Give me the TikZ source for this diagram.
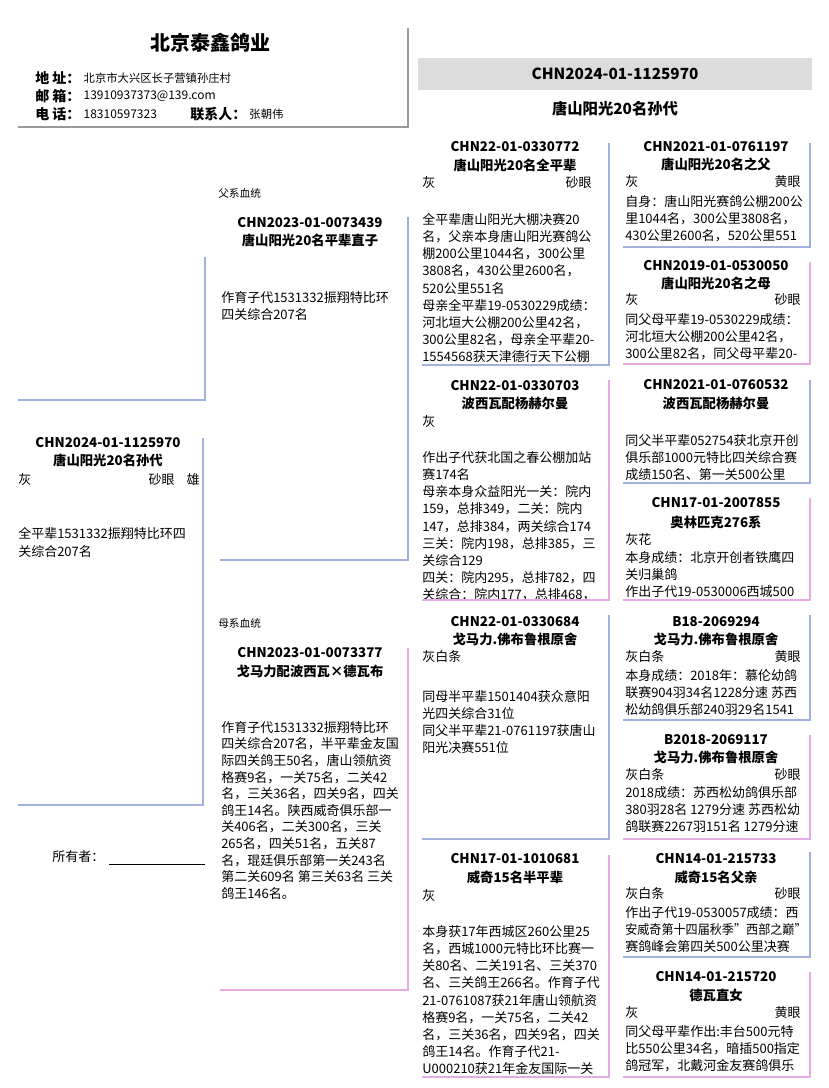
\documentclass[tikz,border=0pt]{standalone}
\usepackage{fontspec}
\setmainfont{Noto Sans CJK SC}
\usepackage{xcolor}
\usetikzlibrary{positioning}
\definecolor{sireBlue}{HTML}{A2B0DF}
\definecolor{damPink}{HTML}{E7ABE3}
\definecolor{headGray}{HTML}{DCDCDC}
\definecolor{frameGray}{HTML}{9A9A9A}

\begin{document}
\begin{tikzpicture}[x=0.75pt, y=-0.75pt,
  sireln/.style={draw=sireBlue, line width=2pt},
  damln/.style={draw=damPink, line width=2pt},
  idtxt/.style={font=\bfseries\fontsize{10}{12}\selectfont, inner sep=0pt},
  tagtxt/.style={font=\fontsize{9.75}{12}\selectfont, inner sep=0pt},
  bodytxt/.style={font=\fontsize{9.75}{12.9}\selectfont, align=left, inner sep=0pt, anchor=north west},
  lbl/.style={font=\bfseries\fontsize{10.5}{12}\selectfont, inner sep=0pt, anchor=west},
  val/.style={font=\fontsize{9}{11}\selectfont, inner sep=0pt},
  smalltxt/.style={font=\fontsize{8}{10}\selectfont, inner sep=0pt, anchor=west}]
\useasboundingbox (0,0) rectangle (828,1088);

% club header
\node[font=\bfseries\fontsize{15}{18}\selectfont] (club) at (210,43) {北京泰鑫鸽业};
\node[lbl] (addrl) at (35,78) {地 址：};
\node[val, font=\fontsize{8.5}{10}\selectfont, right=2pt of addrl] (addr) {北京市大兴区长子营镇孙庄村};
\node[lbl] (maill) at (35,96) {邮 箱：};
\node[val, right=2pt of maill] (mail) {13910937373@139.com};
\node[lbl] (tell) at (35,114) {电 话：};
\node[val, right=2pt of tell] (tel) {18310597323};
\node[lbl] (contl) at (190,114) {联系人：};
\node[val, font=\fontsize{8.5}{10}\selectfont, right=2pt of contl] (cont) {张朝伟};
\draw[frameGray, line width=2pt] (408,28) -- (408,127) -- (18,127);

% bird header
\fill[headGray] (418,58) rectangle (812,90);
\node[idtxt, font=\bfseries\fontsize{11.5}{14}\selectfont] (topid) at (615,74) {CHN2024-01-1125970};
\node[idtxt, font=\bfseries\fontsize{11.5}{14}\selectfont] (topnm) at (615,109) {唐山阳光20名孙代};

% subject
\node[idtxt] (subid) at (108,443) {CHN2024-01-1125970};
\node[idtxt] (subnm) at (108,460) {唐山阳光20名孙代};
\node[tagtxt, anchor=west] (subcol) at (18,480) {灰};
\node[tagtxt, anchor=east] (subsex) at (200,480) {雄};
\node[tagtxt, anchor=east] (subeye) at (175,480) {砂眼};
\node[bodytxt, font=\fontsize{9.75}{13.5}\selectfont] (subtxt) at (18,527) {全平辈1531332振翔特比环四\\关综合207名};
\draw[sireln] (203,438) -- (203,805) -- (18,805);
\draw[sireln] (205,257) -- (205,400) -- (18,400);

\node[tagtxt, anchor=west] (owner) at (52,857) {所有者：};
\draw[line width=0.6pt] ([xshift=3pt,yshift=-1pt]owner.south east) -- ++(96,0);

% sire
\node[smalltxt] (sirelbl) at (218,193) {父系血统};
\node[idtxt] (sid) at (310,223) {CHN2023-01-0073439};
\node[idtxt] (snm) at (310,240) {唐山阳光20名平辈直子};
\node[bodytxt] (stxt) at (221,291) {作育子代1531332振翔特比环\\四关综合207名};
\draw[sireln] (408,217) -- (408,560) -- (220,560);

% dam
\node[smalltxt] (damlbl) at (218,623) {母系血统};
\node[idtxt] (did) at (310,653) {CHN2023-01-0073377};
\node[idtxt] (dnm) at (310,671) {戈马力配波西瓦×德瓦布};
\node[bodytxt, font=\fontsize{9.75}{12.45}\selectfont] (dtxt) at (221,721) {作育子代1531332振翔特比环\\四关综合207名，半平辈金友国\\际四关鸽王50名，唐山领航资\\格赛9名，一关75名，二关42\\名，三关36名，四关9名，四关\\鸽王14名。陕西威奇俱乐部一\\关406名，二关300名，三关\\265名，四关51名，五关87\\名，琨廷俱乐部第一关243名\\第二关609名 第三关63名 三关\\鸽王146名。};
\draw[damln] (408,648) -- (408,990) -- (220,990);

% col 3: grandparents
\node[idtxt] (ssid) at (515,147) {CHN22-01-0330772};
\node[idtxt] (ssnm) at (515,165) {唐山阳光20名全平辈};
\node[tagtxt, anchor=west] (sscol) at (422,183) {灰};
\node[tagtxt, anchor=east] (sseye) at (592,183) {砂眼};
\node[bodytxt] (sstxt) at (422,213) {全平辈唐山阳光大棚决赛20\\名，父亲本身唐山阳光赛鸽公\\棚200公里1044名，300公里\\3808名，430公里2600名，\\520公里551名\\母亲全平辈19-0530229成绩：\\河北垣大公棚200公里42名，\\300公里82名，母亲全平辈20-\\1554568获天津德行天下公棚};
\draw[sireln] (609,143) -- (609,365) -- (422,365);

\node[idtxt] (sdid) at (515,386) {CHN22-01-0330703};
\node[idtxt] (sdnm) at (515,403) {波西瓦配杨赫尔曼};
\node[tagtxt, anchor=west] (sdcol) at (422,422) {灰};
\node[bodytxt] (sdtxt) at (422,451) {作出子代获北国之春公棚加站\\赛174名\\母亲本身众益阳光一关：院内\\159，总排349，二关：院内\\147，总排384，两关综合174\\三关：院内198，总排385，三\\关综合129\\四关：院内295，总排782，四\\关综合：院内177，总排468，};
\draw[damln] (609,380) -- (609,600) -- (422,600);

\node[idtxt] (dsid) at (515,622) {CHN22-01-0330684};
\node[idtxt] (dsnm) at (515,639) {戈马力.佛布鲁根原舍};
\node[tagtxt, anchor=west] (dscol) at (422,657) {灰白条};
\node[bodytxt] (dstxt) at (422,690) {同母半平辈1501404获众意阳\\光四关综合31位\\同父半平辈21-0761197获唐山\\阳光决赛551位};
\draw[sireln] (609,615) -- (609,839) -- (422,839);

\node[idtxt] (ddid) at (515,859) {CHN17-01-1010681};
\node[idtxt] (ddnm) at (515,877) {威奇15名半平辈};
\node[tagtxt, anchor=west] (ddcol) at (422,896) {灰};
\node[bodytxt] (ddtxt) at (422,925) {本身获17年西城区260公里25\\名，西城1000元特比环比赛一\\关80名、二关191名、三关370\\名、三关鸽王266名。作育子代\\21-0761087获21年唐山领航资\\格赛9名，一关75名，二关42\\名，三关36名，四关9名，四关\\鸽王14名。作育子代21-\\U000210获21年金友国际一关};
\draw[damln] (609,855) -- (609,1077) -- (422,1077);

% col 4: great-grandparents
\node[idtxt] (sssid) at (716,147) {CHN2021-01-0761197};
\node[idtxt] (sssnm) at (716,164) {唐山阳光20名之父};
\node[tagtxt, anchor=west] (ssscol) at (625,182) {灰};
\node[tagtxt, anchor=east] (ssseye) at (801,182) {黄眼};
\node[bodytxt] (ssstxt) at (625,195) {自身：唐山阳光赛鸽公棚200公\\里1044名，300公里3808名，\\430公里2600名，520公里551};
\draw[sireln] (810,143) -- (810,247) -- (623,247);

\node[idtxt] (ssdid) at (716,266) {CHN2019-01-0530050};
\node[idtxt] (ssdnm) at (716,283) {唐山阳光20名之母};
\node[tagtxt, anchor=west] (ssdcol) at (625,300) {灰};
\node[tagtxt, anchor=east] (ssdeye) at (801,300) {砂眼};
\node[bodytxt] (ssdtxt) at (625,313) {同父母平辈19-0530229成绩：\\河北垣大公棚200公里42名，\\300公里82名，同父母平辈20-};
\draw[damln] (810,262) -- (810,364) -- (623,364);

\node[idtxt] (sdsid) at (716,385) {CHN2021-01-0760532};
\node[idtxt] (sdsnm) at (716,403) {波西瓦配杨赫尔曼};
\node[bodytxt] (sdstxt) at (625,434) {同父半平辈052754获北京开创\\俱乐部1000元特比四关综合赛\\成绩150名、第一关500公里};
\draw[sireln] (810,380) -- (810,483) -- (623,483);

\node[idtxt] (sddid) at (716,503) {CHN17-01-2007855};
\node[idtxt] (sddnm) at (716,522) {奥林匹克276系};
\node[tagtxt, anchor=west] (sddcol) at (625,540) {灰花};
\node[bodytxt] (sddtxt) at (625,551) {本身成绩：北京开创者铁鹰四\\关归巢鸽\\作出子代19-0530006西城500};
\draw[damln] (810,498) -- (810,600) -- (623,600);

\node[idtxt] (dssid) at (716,622) {B18-2069294};
\node[idtxt] (dssnm) at (716,639) {戈马力.佛布鲁根原舍};
\node[tagtxt, anchor=west] (dsscol) at (625,657) {灰白条};
\node[tagtxt, anchor=east] (dsseye) at (801,657) {黄眼};
\node[bodytxt] (dsstxt) at (625,669) {本身成绩：2018年：慕伦幼鸽\\联赛904羽34名1228分速 苏西\\松幼鸽俱乐部240羽29名1541};
\draw[sireln] (810,615) -- (810,720) -- (623,720);

\node[idtxt] (dsdid) at (716,740) {B2018-2069117};
\node[idtxt] (dsdnm) at (716,757) {戈马力.佛布鲁根原舍};
\node[tagtxt, anchor=west] (dsdcol) at (625,775) {灰白条};
\node[tagtxt, anchor=east] (dsdeye) at (801,775) {砂眼};
\node[bodytxt] (dsdtxt) at (625,786) {2018成绩：苏西松幼鸽俱乐部\\380羽28名 1279分速 苏西松幼\\鸽联赛2267羽151名 1279分速};
\draw[damln] (810,735) -- (810,839) -- (623,839);

\node[idtxt] (ddsid) at (716,859) {CHN14-01-215733};
\node[idtxt] (ddsnm) at (716,877) {威奇15名父亲};
\node[tagtxt, anchor=west] (ddscol) at (625,894) {灰白条};
\node[tagtxt, anchor=east] (ddseye) at (801,894) {砂眼};
\node[bodytxt] (ddstxt) at (625,906) {作出子代19-0530057成绩：西\\\scalebox{0.93}[1]{安威奇第十四届秋季"西部之巅"}\\赛鸽峰会第四关500公里决赛};
\draw[sireln] (810,852) -- (810,957) -- (623,957);

\node[idtxt] (dddid) at (716,977) {CHN14-01-215720};
\node[idtxt] (dddnm) at (716,995) {德瓦直女};
\node[tagtxt, anchor=west] (dddcol) at (625,1013) {灰};
\node[tagtxt, anchor=east] (dddeye) at (801,1013) {黄眼};
\node[bodytxt] (dddtxt) at (625,1025) {同父母平辈作出:丰台500元特\\比550公里34名，暗插500指定\\鸽冠军，北戴河金友赛鸽俱乐};
\draw[damln] (810,972) -- (810,1077) -- (623,1077);
\end{tikzpicture}
\end{document}
